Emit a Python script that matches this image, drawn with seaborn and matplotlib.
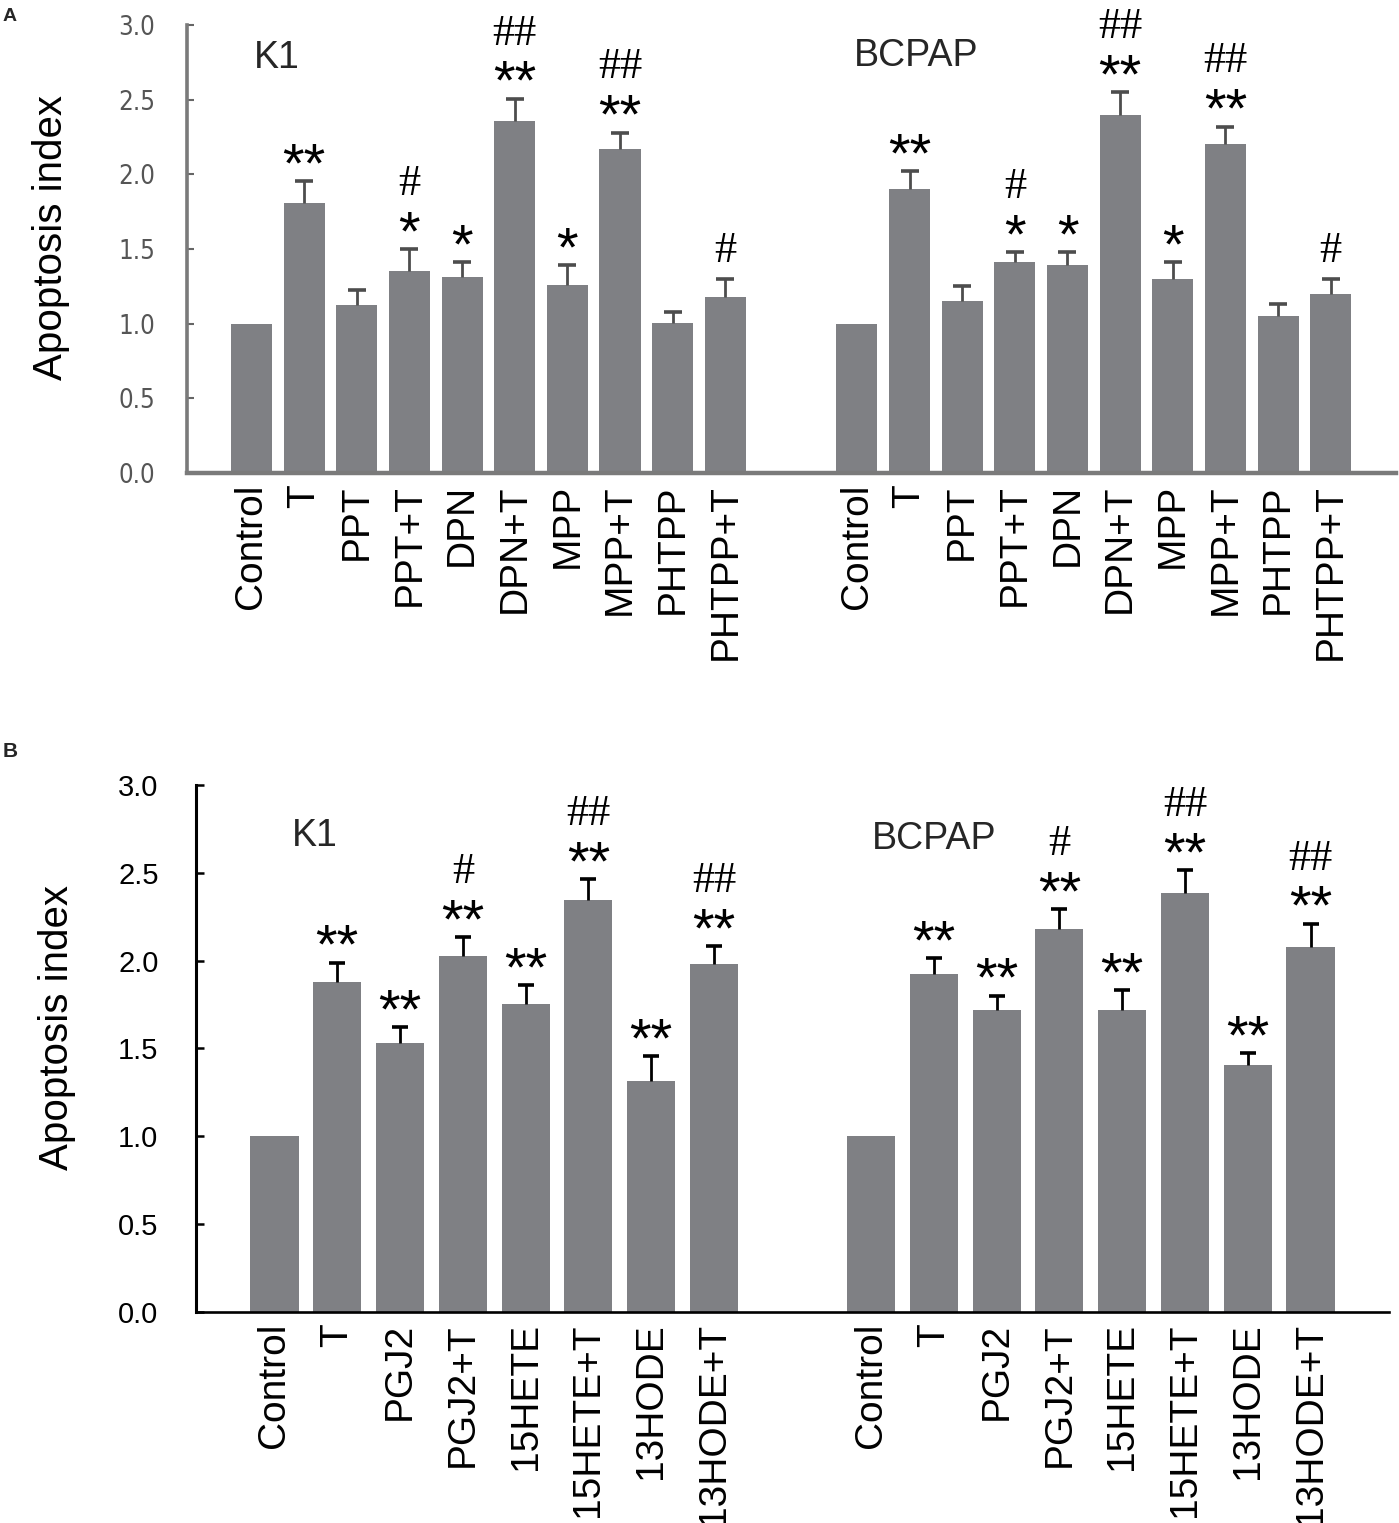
import numpy as np
import pandas as pd
import matplotlib
matplotlib.use("Agg")
import matplotlib.pyplot as plt
import seaborn as sns

# ---------------- data ----------------
a_labels = ["Control", "T", "PPT", "PPT+T", "DPN", "DPN+T", "MPP", "MPP+T", "PHTPP", "PHTPP+T"]
a_k1_vals = [1.00, 1.81, 1.125, 1.35, 1.315, 2.355, 1.26, 2.17, 1.005, 1.18]
a_k1_err = [0.0, 0.145, 0.10, 0.15, 0.095, 0.15, 0.13, 0.11, 0.07, 0.12]
a_bc_vals = [1.00, 1.90, 1.15, 1.41, 1.39, 2.40, 1.30, 2.20, 1.05, 1.20]
a_bc_err = [0.0, 0.12, 0.10, 0.07, 0.09, 0.15, 0.11, 0.12, 0.085, 0.10]
a_stars = ["", "**", "", "*", "*", "**", "*", "**", "", ""]
a_hash = ["", "", "", "#", "", "##", "", "##", "", "#"]

b_labels = ["Control", "T", "PGJ2", "PGJ2+T", "15HETE", "15HETE+T", "13HODE", "13HODE+T"]
b_k1_vals = [1.00, 1.877, 1.53, 2.024, 1.75, 2.342, 1.315, 1.981]
b_k1_err = [0.0, 0.11, 0.09, 0.11, 0.11, 0.12, 0.14, 0.10]
b_bc_vals = [1.00, 1.922, 1.721, 2.181, 1.721, 2.383, 1.403, 2.079]
b_bc_err = [0.0, 0.09, 0.08, 0.11, 0.11, 0.13, 0.07, 0.13]
b_stars = ["", "**", "**", "**", "**", "**", "**", "**"]
b_hash = ["", "", "", "#", "", "##", "", "##"]

cell_lines = ["K1", "BCPAP"]
y_ticks = [0.0, 0.5, 1.0, 1.5, 2.0, 2.5, 3.0]

# ---------------- style ----------------
sns.set_style("ticks")
plt.rcParams["font.family"] = ["Liberation Sans", "DejaVu Sans"]

BAR = "#7f8084"
W, H = 1399, 1523
fig = plt.figure(figsize=(W / 100, H / 100), dpi=100)


def panel(ax, labels, v1, e1, v2, e2, stars, hashes, width, ecolor, spine_color,
          spine_lw, cap_ms):
    n = len(labels)
    pos = np.concatenate([np.arange(n), np.arange(n) + n + 1.5])
    vals = np.array(v1 + v2, dtype=float)
    errs = np.array(e1 + e2, dtype=float)
    df = pd.DataFrame({"pos": pos, "value": vals,
                       "cell": [cell_lines[0]] * n + [cell_lines[1]] * n})
    sns.barplot(data=df, x="pos", y="value", native_scale=True, width=width,
                color=BAR, saturation=1, errorbar=None, linewidth=0,
                edgecolor="none", ax=ax)
    m = errs > 0
    ax.errorbar(pos[m], vals[m], yerr=[np.zeros(m.sum()), errs[m]], fmt="none",
                ecolor=ecolor, elinewidth=2.0, capsize=0, zorder=3)
    ax.plot(pos[m], (vals + errs)[m], ls="none", marker="_", ms=cap_ms, mew=2.6,
            color=ecolor, zorder=3)
    st = stars + stars
    hs = hashes + hashes
    for x, v, e, s, h in zip(pos, vals, errs, st, hs):
        top = v + e
        if s:
            ax.annotate(s, xy=(x, top), xytext=(0, 0), textcoords="offset points",
                        ha="center", va="baseline", fontsize=40,
                        family="Liberation Sans", color="black")
        if h:
            off = 39 if s else 12
            ax.annotate(h, xy=(x, top), xytext=(0, off), textcoords="offset points",
                        ha="center", va="baseline", fontsize=32,
                        family="Liberation Serif", color="black")
    ax.set_xticks(pos)
    ax.set_xticklabels(labels + labels)
    ax.set_ylim(0, 3.0)
    ax.set_yticks(y_ticks)
    ax.set_yticklabels([f"{t:.1f}" for t in y_ticks])
    ax.set_xlabel("")
    ax.set_ylabel("Apoptosis index", fontsize=29, color="black")
    ax.yaxis.label.set_va("center")
    for sp in ["top", "right"]:
        ax.spines[sp].set_visible(False)
    ax.spines["left"].set_color(spine_color)
    ax.spines["bottom"].set_color(spine_color)
    ax.spines["left"].set_linewidth(spine_lw[0])
    ax.spines["bottom"].set_linewidth(spine_lw[1])
    ax.tick_params(axis="x", length=0, pad=8, labelsize=28, labelrotation=90,
                   labelcolor="black")
    return pos


# ---------------- panel A ----------------
axA = fig.add_axes([187 / W, 1 - 473 / H, (1396 - 187) / W, 448 / H])
panel(axA, a_labels, a_k1_vals, a_k1_err, a_bc_vals, a_bc_err, a_stars, a_hash,
      0.78, "#4d4d4d", "#7a7a7a", (2.6, 3.2), 13)
axA.set_xlim(-1.225, 21.74)
axA.tick_params(axis="y", direction="in", length=5, width=1.5, colors="#666666",
                labelcolor="#555555", labelsize=18.5, pad=23)
for t in axA.get_yticklabels():
    t.set_fontfamily("DejaVu Sans")
    t.set_fontstretch("condensed")
axA.yaxis.set_label_coords((51 - 187) / (1396 - 187), (473 - 237) / 448)

# ---------------- panel B ----------------
axB = fig.add_axes([196 / W, 1 - 1312 / H, (1389 - 196) / W, (1312 - 784.8) / H])
panel(axB, b_labels, b_k1_vals, b_k1_err, b_bc_vals, b_bc_err, b_stars, b_hash,
      0.765, "black", "black", (2.2, 1.9), 11)
axB.set_xlim(-1.25, 17.75)
axB.tick_params(axis="y", direction="in", length=6, width=1.8, colors="black",
                labelcolor="black", labelsize=21, pad=27)
axB.yaxis.set_label_coords((57 - 196) / (1389 - 196), (1312 - 1028) / (1312 - 784.8))

# ---------------- titles / panel letters ----------------
fig.text(254 / W, 1 - 68 / H, "K1", fontsize=27, va="baseline", ha="left")
fig.text(854 / W, 1 - 66 / H, "BCPAP", fontsize=27, va="baseline", ha="left")
fig.text(292 / W, 1 - 846 / H, "K1", fontsize=27, va="baseline", ha="left")
fig.text(872 / W, 1 - 849 / H, "BCPAP", fontsize=27, va="baseline", ha="left")
fig.text(3 / W, 1 - 8 / H, "A", fontsize=14, fontweight="bold", va="top", ha="left")
fig.text(3 / W, 1 - 742 / H, "B", fontsize=15, fontweight="bold", va="top", ha="left")

fig.savefig("out.png", dpi=100)
